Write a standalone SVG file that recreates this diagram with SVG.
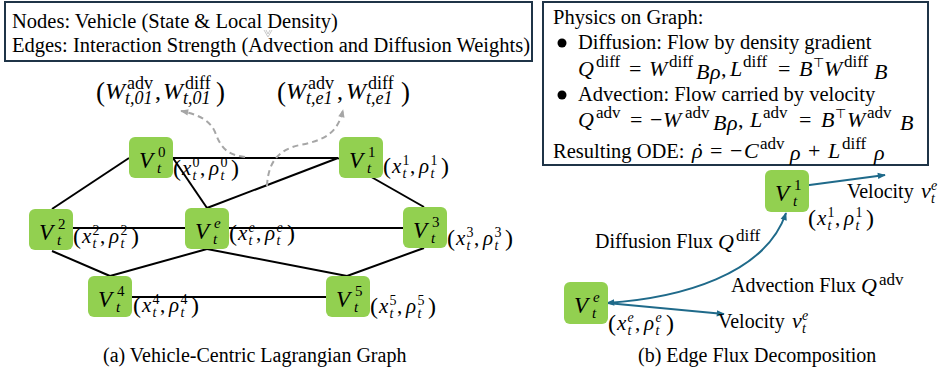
<svg xmlns="http://www.w3.org/2000/svg" width="941" height="377" viewBox="0 0 941 377">
<style>
.txt{font-family:"Liberation Serif","Times New Roman",serif;font-size:20px;fill:#000}
.bx{font-size:20.5px}
.m{font-family:"Liberation Serif","Times New Roman",serif;fill:#000}
.i{font-style:italic}
.node rect{fill:#92D050}
.edge{stroke:#000;stroke-width:2;fill:none}
.dash{stroke:#A6A6A6;stroke-width:2;fill:none;stroke-dasharray:6 4}
.flux{stroke:#1F6A8A;stroke-width:2;fill:none}
.box{fill:#fff;stroke:#1F3447;stroke-width:2}
</style>
<defs>
<marker id="ahf" viewBox="0 0 10 10" refX="9" refY="5" markerWidth="10" markerHeight="8" markerUnits="userSpaceOnUse" orient="auto-start-reverse"><path d="M0,1 L10,5 L0,9 z" fill="#1F6A8A"/></marker>
<marker id="ahg" viewBox="0 0 10 10" refX="9" refY="5" markerWidth="9" markerHeight="8" markerUnits="userSpaceOnUse" orient="auto"><path d="M0,1 L10,5 L0,9 z" fill="#A6A6A6"/></marker>
</defs>
<rect width="941" height="377" fill="#fff"/>

<!-- legend boxes -->
<g id="legend-left">
<rect class="box" x="5" y="2" width="527" height="59"/>
<text class="txt bx" x="12" y="28">Nodes: Vehicle (State &amp; Local Density)</text>
<text class="txt bx" x="12" y="52">Edges: Interaction Strength (Advection and Diffusion Weights)</text>
<path d="M264,30 L268,37 L272,30 M266,30 L268,34 L270,30" stroke="#BBBBBB" stroke-width="0.8" fill="none"/>
</g>

<g id="legend-right">
<rect class="box" x="543" y="2" width="385" height="163"/>
<text class="txt bx" x="553" y="24">Physics on Graph:</text>
<circle cx="562" cy="43" r="4.5" fill="#000"/>
<text class="txt bx" x="578" y="49">Diffusion: Flow by density gradient</text>
<text class="m" font-size="22">
<tspan class="i" x="578" y="76">Q</tspan><tspan font-size="17" x="596" y="67">diff</tspan>
<tspan x="629" y="76">=</tspan>
<tspan class="i" x="649" y="76">W</tspan><tspan font-size="17" x="669" y="67">diff</tspan>
<tspan class="i" x="696" y="79">B</tspan><tspan class="i" x="710" y="79">ρ</tspan><tspan x="721" y="76">,</tspan>
<tspan class="i" x="730" y="76">L</tspan><tspan font-size="17" x="743" y="67">diff</tspan>
<tspan x="778" y="76">=</tspan>
<tspan class="i" x="799" y="76">B</tspan><tspan font-family="DejaVu Sans, sans-serif" font-size="13" x="813" y="67">⊤</tspan>
<tspan class="i" x="824" y="76">W</tspan><tspan font-size="17" x="844" y="67">diff</tspan>
<tspan class="i" x="874" y="79">B</tspan>
</text>
<circle cx="562" cy="95" r="4.5" fill="#000"/>
<text class="txt bx" x="578" y="101">Advection: Flow carried by velocity</text>
<text class="m" font-size="22">
<tspan class="i" x="578" y="127">Q</tspan><tspan font-size="17" x="596" y="118">adv</tspan>
<tspan x="630" y="127">=</tspan><tspan x="650" y="127">−</tspan>
<tspan class="i" x="663" y="127">W</tspan><tspan font-size="17" x="685" y="118">adv</tspan>
<tspan class="i" x="713" y="130">B</tspan><tspan class="i" x="727" y="130">ρ</tspan><tspan x="738" y="127">,</tspan>
<tspan class="i" x="750" y="127">L</tspan><tspan font-size="17" x="763" y="118">adv</tspan>
<tspan x="799" y="127">=</tspan>
<tspan class="i" x="821" y="127">B</tspan><tspan font-family="DejaVu Sans, sans-serif" font-size="13" x="835" y="118">⊤</tspan>
<tspan class="i" x="847" y="127">W</tspan><tspan font-size="17" x="867" y="118">adv</tspan>
<tspan class="i" x="900" y="130">B</tspan>
</text>
<text class="txt bx" x="553" y="158">Resulting ODE:</text>
<text class="m" font-size="22">
<tspan class="i" x="692" y="158">ρ</tspan><tspan x="696" y="158">˙</tspan>
<tspan x="710" y="158">=</tspan><tspan x="730" y="158">−</tspan>
<tspan class="i" x="744" y="158">C</tspan><tspan font-size="17" x="760" y="149">adv</tspan>
<tspan class="i" x="790" y="160">ρ</tspan>
<tspan x="808" y="158">+</tspan>
<tspan class="i" x="828" y="158">L</tspan><tspan font-size="17" x="842" y="149">diff</tspan>
<tspan class="i" x="874" y="160">ρ</tspan>
</text>
</g>

<!-- connectors -->
<g id="connectors">
<line class="edge" x1="129" y1="158" x2="52" y2="209"/>
<line class="edge" x1="173" y1="158" x2="338" y2="158"/>
<line class="edge" x1="173" y1="158" x2="207" y2="208"/>
<line class="edge" x1="207" y1="208" x2="338" y2="158"/>
<line class="edge" x1="338" y1="158" x2="424" y2="207"/>
<line class="edge" x1="73" y1="228" x2="185" y2="228"/>
<line class="edge" x1="229" y1="228" x2="403" y2="228"/>
<line class="edge" x1="52" y1="251" x2="110" y2="276"/>
<line class="edge" x1="207" y1="249" x2="110" y2="276"/>
<line class="edge" x1="207" y1="249" x2="347" y2="276"/>
<line class="edge" x1="424" y1="248" x2="347" y2="276"/>
<line class="edge" x1="132" y1="297" x2="326" y2="297"/>
<path class="dash" d="M245,157 C225,155 220,145 215,132 C210,120 197,114 181,111" marker-end="url(#ahg)"/>
<path class="dash" d="M267,186 C268,165 276,150 300,145 C326,140 338,132 343,110" marker-end="url(#ahg)"/>
<path class="flux" d="M802,186 L885,175" marker-end="url(#ahf)"/>
<path class="flux" d="M607,303 C680,298 765,275 786,213" marker-start="url(#ahf)" marker-end="url(#ahf)"/>
<path class="flux" d="M607,303 L724,314" marker-end="url(#ahf)"/>
</g>

<!-- edge weight labels -->
<g id="weight-labels">
<g transform="translate(96,99)">
<text class="m" font-size="24"><tspan x="0" y="2" font-size="27">(</tspan><tspan class="i" x="9" y="0">W</tspan><tspan font-size="18" x="31" y="-10">adv</tspan><tspan class="i" font-size="18" x="29" y="5">t,01</tspan><tspan x="59" y="0">,</tspan><tspan class="i" x="67" y="0">W</tspan><tspan font-size="18" x="89" y="-10">diff</tspan><tspan class="i" font-size="18" x="87" y="5">t,01</tspan><tspan x="120" y="2" font-size="27">)</tspan></text>
</g>
<g transform="translate(277,99)">
<text class="m" font-size="24"><tspan x="0" y="2" font-size="27">(</tspan><tspan class="i" x="9" y="0">W</tspan><tspan font-size="18" x="31" y="-10">adv</tspan><tspan class="i" font-size="18" x="29" y="5">t,e1</tspan><tspan x="60" y="0">,</tspan><tspan class="i" x="69" y="0">W</tspan><tspan font-size="18" x="91" y="-10">diff</tspan><tspan class="i" font-size="18" x="89" y="5">t,e1</tspan><tspan x="124" y="2" font-size="27">)</tspan></text>
</g>
</g>

<!-- nodes (a) -->
<g id="node-v0" class="node">
<rect x="129" y="137" width="44" height="41" rx="6"/>
<text class="m"><tspan class="i" font-size="23" x="139" y="168">V</tspan><tspan font-size="15" x="158" y="157">0</tspan><tspan class="i" font-size="15" x="157" y="173">t</tspan></text>
<g transform="translate(173,175)"><text class="m" font-size="21"><tspan x="0" y="1" font-size="24">(</tspan><tspan class="i" x="9" y="0">x</tspan><tspan font-size="14" x="19.5" y="-8">0</tspan><tspan class="i" font-size="14" x="19.5" y="5">t</tspan><tspan x="27" y="0">,</tspan><tspan class="i" x="36" y="0">ρ</tspan><tspan font-size="14" x="47.5" y="-8">0</tspan><tspan class="i" font-size="14" x="47.5" y="5">t</tspan><tspan x="58" y="1" font-size="24">)</tspan></text></g>
</g>
<g id="node-v1" class="node">
<rect x="339" y="137" width="44" height="41" rx="6"/>
<text class="m"><tspan class="i" font-size="23" x="349" y="168">V</tspan><tspan font-size="15" x="368" y="157">1</tspan><tspan class="i" font-size="15" x="367" y="173">t</tspan></text>
<g transform="translate(383,173)"><text class="m" font-size="21"><tspan x="0" y="1" font-size="24">(</tspan><tspan class="i" x="9" y="0">x</tspan><tspan font-size="14" x="19.5" y="-8">1</tspan><tspan class="i" font-size="14" x="19.5" y="5">t</tspan><tspan x="27" y="0">,</tspan><tspan class="i" x="36" y="0">ρ</tspan><tspan font-size="14" x="47.5" y="-8">1</tspan><tspan class="i" font-size="14" x="47.5" y="5">t</tspan><tspan x="58" y="1" font-size="24">)</tspan></text></g>
</g>
<g id="node-v2" class="node">
<rect x="29" y="209" width="44" height="41" rx="6"/>
<text class="m"><tspan class="i" font-size="23" x="39" y="240">V</tspan><tspan font-size="15" x="58" y="229">2</tspan><tspan class="i" font-size="15" x="57" y="245">t</tspan></text>
<g transform="translate(73,243)"><text class="m" font-size="21"><tspan x="0" y="1" font-size="24">(</tspan><tspan class="i" x="9" y="0">x</tspan><tspan font-size="14" x="19.5" y="-8">2</tspan><tspan class="i" font-size="14" x="19.5" y="5">t</tspan><tspan x="27" y="0">,</tspan><tspan class="i" x="36" y="0">ρ</tspan><tspan font-size="14" x="47.5" y="-8">2</tspan><tspan class="i" font-size="14" x="47.5" y="5">t</tspan><tspan x="58" y="1" font-size="24">)</tspan></text></g>
</g>
<g id="node-ve" class="node">
<rect x="185" y="208" width="44" height="41" rx="6"/>
<text class="m"><tspan class="i" font-size="23" x="195" y="239">V</tspan><tspan class="i" font-size="15" x="214" y="228">e</tspan><tspan class="i" font-size="15" x="213" y="244">t</tspan></text>
<g transform="translate(229,240)"><text class="m" font-size="21"><tspan x="0" y="1" font-size="24">(</tspan><tspan class="i" x="9" y="0">x</tspan><tspan class="i" font-size="14" x="19.5" y="-8">e</tspan><tspan class="i" font-size="14" x="19.5" y="5">t</tspan><tspan x="27" y="0">,</tspan><tspan class="i" x="36" y="0">ρ</tspan><tspan class="i" font-size="14" x="47.5" y="-8">e</tspan><tspan class="i" font-size="14" x="47.5" y="5">t</tspan><tspan x="58" y="1" font-size="24">)</tspan></text></g>
</g>
<g id="node-v3" class="node">
<rect x="403" y="207" width="44" height="41" rx="6"/>
<text class="m"><tspan class="i" font-size="23" x="413" y="238">V</tspan><tspan font-size="15" x="432" y="227">3</tspan><tspan class="i" font-size="15" x="431" y="243">t</tspan></text>
<g transform="translate(447,245)"><text class="m" font-size="21"><tspan x="0" y="1" font-size="24">(</tspan><tspan class="i" x="9" y="0">x</tspan><tspan font-size="14" x="19.5" y="-8">3</tspan><tspan class="i" font-size="14" x="19.5" y="5">t</tspan><tspan x="27" y="0">,</tspan><tspan class="i" x="36" y="0">ρ</tspan><tspan font-size="14" x="47.5" y="-8">3</tspan><tspan class="i" font-size="14" x="47.5" y="5">t</tspan><tspan x="58" y="1" font-size="24">)</tspan></text></g>
</g>
<g id="node-v4" class="node">
<rect x="88" y="276" width="44" height="41" rx="6"/>
<text class="m"><tspan class="i" font-size="23" x="98" y="307">V</tspan><tspan font-size="15" x="117" y="296">4</tspan><tspan class="i" font-size="15" x="116" y="312">t</tspan></text>
<g transform="translate(133,312)"><text class="m" font-size="21"><tspan x="0" y="1" font-size="24">(</tspan><tspan class="i" x="9" y="0">x</tspan><tspan font-size="14" x="19.5" y="-8">4</tspan><tspan class="i" font-size="14" x="19.5" y="5">t</tspan><tspan x="27" y="0">,</tspan><tspan class="i" x="36" y="0">ρ</tspan><tspan font-size="14" x="47.5" y="-8">4</tspan><tspan class="i" font-size="14" x="47.5" y="5">t</tspan><tspan x="58" y="1" font-size="24">)</tspan></text></g>
</g>
<g id="node-v5" class="node">
<rect x="326" y="276" width="44" height="41" rx="6"/>
<text class="m"><tspan class="i" font-size="23" x="336" y="307">V</tspan><tspan font-size="15" x="355" y="296">5</tspan><tspan class="i" font-size="15" x="354" y="312">t</tspan></text>
<g transform="translate(370,313)"><text class="m" font-size="21"><tspan x="0" y="1" font-size="24">(</tspan><tspan class="i" x="9" y="0">x</tspan><tspan font-size="14" x="19.5" y="-8">5</tspan><tspan class="i" font-size="14" x="19.5" y="5">t</tspan><tspan x="27" y="0">,</tspan><tspan class="i" x="36" y="0">ρ</tspan><tspan font-size="14" x="47.5" y="-8">5</tspan><tspan class="i" font-size="14" x="47.5" y="5">t</tspan><tspan x="58" y="1" font-size="24">)</tspan></text></g>
</g>

<!-- nodes (b) -->
<g id="node-b-v1" class="node">
<rect x="765" y="170" width="44" height="42" rx="6"/>
<text class="m"><tspan class="i" font-size="23" x="775" y="201">V</tspan><tspan font-size="15" x="794" y="190">1</tspan><tspan class="i" font-size="15" x="793" y="206">t</tspan></text>
<g transform="translate(808,225)"><text class="m" font-size="21"><tspan x="0" y="1" font-size="24">(</tspan><tspan class="i" x="9" y="0">x</tspan><tspan font-size="14" x="19.5" y="-8">1</tspan><tspan class="i" font-size="14" x="19.5" y="5">t</tspan><tspan x="27" y="0">,</tspan><tspan class="i" x="36" y="0">ρ</tspan><tspan font-size="14" x="47.5" y="-8">1</tspan><tspan class="i" font-size="14" x="47.5" y="5">t</tspan><tspan x="58" y="1" font-size="24">)</tspan></text></g>
</g>
<g id="node-b-ve" class="node">
<rect x="564" y="282" width="44" height="42" rx="6"/>
<text class="m"><tspan class="i" font-size="23" x="574" y="313">V</tspan><tspan class="i" font-size="15" x="593" y="302">e</tspan><tspan class="i" font-size="15" x="592" y="318">t</tspan></text>
<g transform="translate(608,330)"><text class="m" font-size="21"><tspan x="0" y="1" font-size="24">(</tspan><tspan class="i" x="9" y="0">x</tspan><tspan class="i" font-size="14" x="19.5" y="-8">e</tspan><tspan class="i" font-size="14" x="19.5" y="5">t</tspan><tspan x="27" y="0">,</tspan><tspan class="i" x="36" y="0">ρ</tspan><tspan class="i" font-size="14" x="47.5" y="-8">e</tspan><tspan class="i" font-size="14" x="47.5" y="5">t</tspan><tspan x="58" y="1" font-size="24">)</tspan></text></g>
</g>

<!-- flux labels (b) -->
<g id="flux-labels">
<text class="txt" x="847" y="198">Velocity</text>
<text class="m"><tspan class="i" font-size="22" x="921" y="198">v</tspan><tspan class="i" font-size="14" x="931" y="190">e</tspan><tspan class="i" font-size="14" x="931" y="203">t</tspan></text>
<text class="txt" x="595" y="248">Diffusion Flux</text>
<text class="m"><tspan class="i" font-size="22" x="718" y="249">Q</tspan><tspan font-size="17" x="736" y="241">diff</tspan></text>
<text class="txt" x="731" y="292">Advection Flux</text>
<text class="m"><tspan class="i" font-size="22" x="861" y="293">Q</tspan><tspan font-size="17" x="879" y="285">adv</tspan></text>
<text class="txt" x="718" y="328">Velocity</text>
<text class="m"><tspan class="i" font-size="22" x="792" y="328">v</tspan><tspan class="i" font-size="14" x="802" y="320">e</tspan><tspan class="i" font-size="14" x="802" y="333">t</tspan></text>
</g>

<!-- captions -->
<text class="txt" x="103" y="362">(a) Vehicle-Centric Lagrangian Graph</text>
<text class="txt" x="638" y="362">(b) Edge Flux Decomposition</text>
</svg>
